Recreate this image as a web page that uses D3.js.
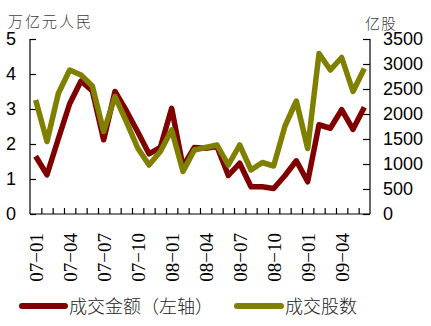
<!DOCTYPE html>
<html><head><meta charset="utf-8">
<script src="https://cdn.jsdelivr.net/npm/d3@7/dist/d3.min.js"></script>
<style>body{margin:0;background:#fff}svg{display:block}</style>
</head><body>
<svg id="c" width="431" height="326"></svg>
<script>
const months = ["07-01","07-02","07-03","07-04","07-05","07-06","07-07","07-08","07-09","07-10","07-11","07-12",
"08-01","08-02","08-03","08-04","08-05","08-06","08-07","08-08","08-09","08-10","08-11","08-12",
"09-01","09-02","09-03","09-04","09-05","09-06"];
const amount = [1.65,1.12,2.15,3.15,3.8,3.52,2.12,3.5,2.95,2.35,1.72,1.9,3.02,1.35,1.9,1.88,1.93,1.1,1.45,0.78,0.78,0.73,1.1,1.52,0.92,2.55,2.45,2.98,2.42,3.05];
const volume = [2280,1450,2410,2880,2780,2560,1650,2350,1850,1320,980,1250,1680,850,1280,1330,1380,980,1380,880,1030,960,1760,2260,1310,3210,2880,3130,2450,2910];
const tickMonths = ["07-01","07-04","07-07","07-10","08-01","08-04","08-07","08-10","09-01","09-04"];
const leftTicks = [0,1,2,3,4,5];
const rightTicks = [0,500,1000,1500,2000,2500,3000,3500];
const seriesNames = ["成交金额（左轴）","成交股数"];
const colors = ["#800000","#808000"];

const svg = d3.select("#c");
const L=30, R=370, T=39, B=214;
const x = d3.scaleBand().domain(months).range([L,R]).padding(0);
const xc = d => x(d)+x.bandwidth()/2;
const yL = d3.scaleLinear().domain([0,5]).range([B,T]);
const yR = d3.scaleLinear().domain([0,3500]).range([B,T]);

const axL = svg.append("g").attr("transform",`translate(${L},0)`)
  .call(d3.axisRight(yL).tickValues(leftTicks).tickSize(6).tickFormat(""));
const axR = svg.append("g").attr("transform",`translate(${R},0)`)
  .call(d3.axisLeft(yR).tickValues(rightTicks).tickSize(7).tickFormat(""));
const xb = d3.scaleLinear().domain([0,months.length]).range([L,R]);
const axB = svg.append("g").attr("transform",`translate(0,${B})`)
  .call(d3.axisTop(xb).tickValues(d3.range(1,months.length)).tickSize(6).tickFormat(""));
[axL,axR,axB].forEach(g=>{g.select(".domain").attr("stroke","#000").attr("stroke-width",1.2);
  g.selectAll(".tick line").attr("stroke","#000").attr("stroke-width",1.2);});
axL.select(".domain").attr("d",`M0,${T}V${B}`);
axR.select(".domain").attr("d",`M0,${T}V${B}`);
axB.select(".domain").attr("d",`M${L},0H${R}`);

svg.append("g").selectAll("text").data(leftTicks).join("text")
  .attr("x",16).attr("y",d=>yL(d)).attr("dy","0.36em").attr("text-anchor","end")
  .attr("font-family","Liberation Sans, Arial, sans-serif").attr("font-size",18).attr("fill","#000").text(d=>d);
svg.append("g").selectAll("text").data(rightTicks).join("text")
  .attr("x",383).attr("y",d=>yR(d)).attr("dy","0.36em").attr("text-anchor","start")
  .attr("font-family","Liberation Sans, Arial, sans-serif").attr("font-size",18).attr("fill","#000").text(d=>d);
svg.append("g").selectAll("text").data(tickMonths).join("text")
  .attr("transform",d=>`translate(${xc(d)},233) rotate(-90)`)
  .attr("dy","0.36em").attr("text-anchor","end")
  .attr("font-family","Liberation Serif, serif").attr("font-size",19).attr("fill","#000")
  .text(d=>d.replace("-","\u2212"));

svg.append("text").attr("x",8).attr("y",27).attr("font-family","Noto Sans CJK SC, sans-serif")
  .attr("font-weight",300).attr("font-size",15).attr("letter-spacing",2).attr("fill","#404040").text("万亿元人民");
svg.append("text").attr("x",365).attr("y",29).attr("font-family","Noto Sans CJK SC, sans-serif")
  .attr("font-weight",300).attr("font-size",15).attr("letter-spacing",1).attr("fill","#404040").text("亿股");

const lineA = d3.line().x((d,i)=>xc(months[i])).y(d=>yL(d));
const lineV = d3.line().x((d,i)=>xc(months[i])).y(d=>yR(d));
svg.append("path").attr("d",lineA(amount)).attr("fill","none").attr("stroke",colors[0])
  .attr("stroke-width",5.5).attr("stroke-linejoin","round");
svg.append("path").attr("d",lineV(volume)).attr("fill","none").attr("stroke",colors[1])
  .attr("stroke-width",5.5).attr("stroke-linejoin","round");

const leg = [{x1:22,x2:65,tx:69},{x1:237,x2:281,tx:285}];
leg.forEach((l,i)=>{
  svg.append("line").attr("x1",l.x1).attr("x2",l.x2).attr("y1",306).attr("y2",306)
    .attr("stroke",colors[i]).attr("stroke-width",6).attr("stroke-linecap","round");
  svg.append("text").attr("x",l.tx).attr("y",313).attr("font-family","Noto Sans CJK SC, sans-serif")
    .attr("font-weight",300).attr("font-size",18).attr("fill","#222").text(seriesNames[i]);
});
</script>
</body></html>
